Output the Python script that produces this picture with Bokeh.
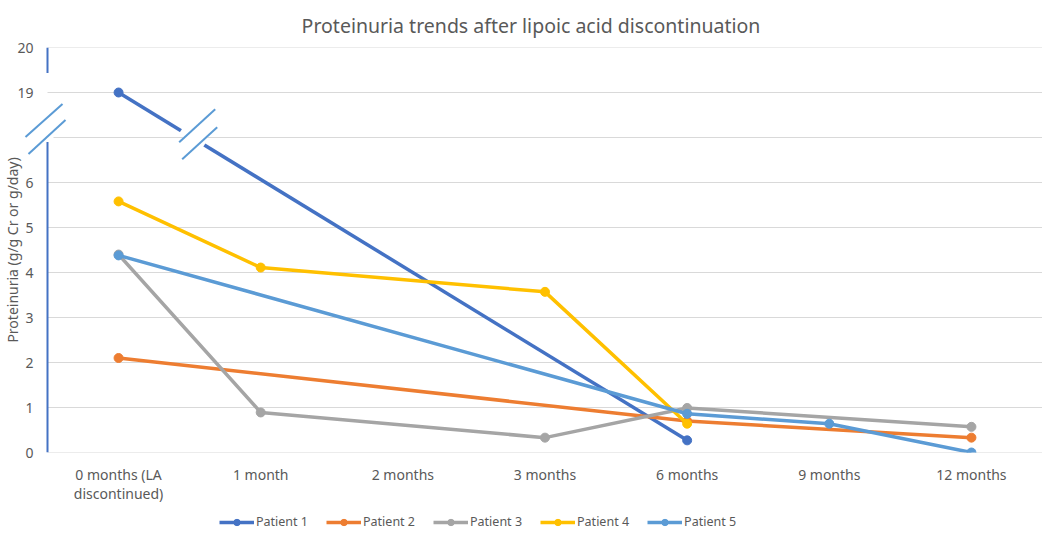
from bokeh.plotting import figure
from bokeh.layouts import column
from bokeh.models import FixedTicker, Range1d, Legend, LegendItem
from bokeh.embed import file_html
from bokeh.resources import INLINE

# ---------------- data ----------------
categories = ["0 months (LA\ndiscontinued)", "1 month", "2 months", "3 months",
              "6 months", "9 months", "12 months"]
y_tick_values = [0, 1, 2, 3, 4, 5, 6, 19, 20]
series_names = ["Patient 1", "Patient 2", "Patient 3", "Patient 4", "Patient 5"]
patient_1 = [19.0, None, None, None, 0.27, None, None]
patient_2 = [2.1, None, None, None, 0.70, None, 0.33]
patient_3 = [4.4, 0.89, None, 0.33, 0.99, None, 0.57]
patient_4 = [5.58, 4.11, None, 3.57, 0.64, None, None]
patient_5 = [4.38, None, None, None, 0.86, 0.64, 0.0]
colors = ["#4472C4", "#ED7D31", "#A5A5A5", "#FFC000", "#5B9BD5"]

TEXT = "#595959"
FONT = "Noto Sans"
BREAK_LOW = 6      # top of the lower (linear) segment
BREAK_SHIFT = 11   # values above the break are drawn 11 units lower (19 -> 8, 20 -> 9)


def ty(v):
    return v if v <= BREAK_LOW else v - BREAK_SHIFT


ncat = len(categories)
xpos = [i + 0.5 for i in range(ncat)]
ytop = ty(y_tick_values[-1])

FW, FH = 1023, 405
LEFT_PAD = 28                      # px of frame left of the drawn y axis (room for break marks)
SX = (FW - LEFT_PAD) / ncat        # pixels per x unit
SY = FH / ytop                     # pixels per y unit

p = figure(frame_width=FW, frame_height=FH, output_backend="svg", toolbar_location=None,
           x_range=Range1d(-LEFT_PAD / SX, ncat), y_range=Range1d(0, ytop),
           min_border_left=0, min_border_right=0, min_border_top=0, min_border_bottom=40,
           title="Proteinuria trends after lipoic acid discontinuation")
p.outline_line_color = None
p.background_fill_color = "white"
p.title.align = "center"
p.title.text_font = FONT
p.title.text_font_size = "19.5px"
p.title.text_font_style = "normal"
p.title.text_color = TEXT
p.title.standoff = 18

# y axis (broken); labels pulled inside the frame edge next to the drawn axis line
yt = [ty(v) for v in y_tick_values]
p.yaxis.ticker = FixedTicker(ticks=yt)
p.yaxis.major_label_overrides = {ty(v): str(v) for v in y_tick_values}
p.yaxis.axis_line_color = None
p.yaxis.major_tick_line_color = None
p.yaxis.minor_tick_line_color = None
p.yaxis.major_tick_out = 0
p.yaxis.major_tick_in = 0
p.yaxis.major_label_text_font = FONT
p.yaxis.major_label_text_font_size = "14px"
p.yaxis.major_label_text_color = TEXT
p.yaxis.major_label_standoff = -14
p.yaxis.axis_label = "Proteinuria (g/g Cr or g/day)"
p.yaxis.axis_label_text_font = FONT
p.yaxis.axis_label_text_font_size = "14px"
p.yaxis.axis_label_text_font_style = "normal"
p.yaxis.axis_label_text_color = TEXT
p.yaxis.axis_label_standoff = -8

# x axis
p.xaxis.ticker = FixedTicker(ticks=xpos)
p.xaxis.major_label_overrides = {x: c for x, c in zip(xpos, categories)}
p.xaxis.axis_line_color = None
p.xaxis.major_tick_line_color = None
p.xaxis.minor_tick_line_color = None
p.xaxis.major_tick_out = 0
p.xaxis.major_label_text_font = FONT
p.xaxis.major_label_text_font_size = "14px"
p.xaxis.major_label_text_color = TEXT
p.xaxis.major_label_text_line_height = 1.0
p.xaxis.major_label_standoff = 12

p.xgrid.grid_line_color = None
p.ygrid.grid_line_color = None


def off(anchor, dx, dy):
    return (anchor[0] + dx / SX, anchor[1] - dy / SY)


# horizontal gridlines from the y axis to the right edge (one also in the break gap)
a_anchor = (0, 7.2)                # centre of the axis break marks
grid_y = sorted(yt + [BREAK_LOW + 1])
grid_x0 = [off(a_anchor, 6, 0)[0] if g == BREAK_LOW + 1 else 0 for g in grid_y]
p.segment(x0=grid_x0, y0=grid_y, x1=[ncat] * len(grid_y), y1=grid_y,
          line_color="#D9D9D9", line_width=1)

# ---------------- series ----------------
series = [patient_1, patient_2, patient_3, patient_4, patient_5]
for name, vals, c in zip(series_names, series, colors):
    xs = [x for x, v in zip(xpos, vals) if v is not None]
    ys = [ty(v) for v in vals if v is not None]
    p.line(xs, ys, line_color=c, line_width=3.5, line_join="round")
    p.scatter(xs, ys, size=9, fill_color=c, line_color=c)

# ---------------- break decorations ----------------
BREAK_COLOR = "#5B9BD5"
AXIS_COLOR = "#4472C4"

# y-axis line with its break
lo_top = off(a_anchor, 0, 13.5)
hi_bot = off(a_anchor, 0, -55.5)
p.segment(x0=[0, hi_bot[0]], y0=[0, hi_bot[1]], x1=[lo_top[0], 0], y1=[lo_top[1], ytop],
          line_color=AXIS_COLOR, line_width=2)
ax1a, ax1b = off(a_anchor, -22, 8.5), off(a_anchor, 15, -24.5)
ax2a, ax2b = off(a_anchor, -19, 25.5), off(a_anchor, 18, -8.5)
p.segment(x0=[ax1a[0], ax2a[0]], y0=[ax1a[1], ax2a[1]], x1=[ax1b[0], ax2b[0]], y1=[ax1b[1], ax2b[1]],
          line_color=BREAK_COLOR, line_width=2)

# break on Patient 1 line
p1x = [x for x, v in zip(xpos, patient_1) if v is not None]
p1y = [ty(v) for v in patient_1 if v is not None]
f = 0.133
l_anchor = (p1x[0] + f * (p1x[1] - p1x[0]), p1y[0] + f * (p1y[1] - p1y[0]))
s1a, s1b = off(l_anchor, -15, 3.5), off(l_anchor, 21, -29.5)
s2a, s2b = off(l_anchor, -12, 20.5), off(l_anchor, 23, -11.5)
p.patch([s1a[0], s1b[0], s2b[0], s2a[0]], [s1a[1], s1b[1], s2b[1], s2a[1]],
        fill_color="white", line_color="white", line_width=2)
g0, g1 = off(l_anchor, -13, -8.5), off(l_anchor, 10, 6.5)
p.segment(x0=[g0[0]], y0=[g0[1]], x1=[g1[0]], y1=[g1[1]], line_color="white", line_width=8)
p.segment(x0=[s1a[0], s2a[0]], y0=[s1a[1], s2a[1]], x1=[s1b[0], s2b[0]], y1=[s1b[1], s2b[1]],
          line_color=BREAK_COLOR, line_width=2)

# ---------------- legend (own strip under the chart) ----------------
lg = figure(width=1034, height=25, output_backend="svg", toolbar_location=None,
            x_range=Range1d(0, 1), y_range=Range1d(0, 1), min_border=0)
lg.axis.visible = False
lg.grid.visible = False
lg.outline_line_color = None
items = []
for name, c in zip(series_names, colors):
    # keys drawn only in the legend; their points lie outside the visible range
    l = lg.line([-5, -4], [-5, -4], line_color=c, line_width=3.5)
    s = lg.scatter([-5], [-5], size=8, fill_color=c, line_color=c)
    items.append(LegendItem(label=name, renderers=[l, s]))
legend = Legend(items=items, orientation="horizontal", location=(200, 0),
                label_text_font=FONT, label_text_font_size="12.5px", label_text_color=TEXT,
                glyph_width=35, glyph_height=16, label_standoff=2, spacing=18,
                border_line_color=None, background_fill_alpha=0, margin=0, padding=2)
lg.add_layout(legend, "center")

layout = column(p, lg, spacing=0)
open("out.html", "w").write(file_html(layout, INLINE))
